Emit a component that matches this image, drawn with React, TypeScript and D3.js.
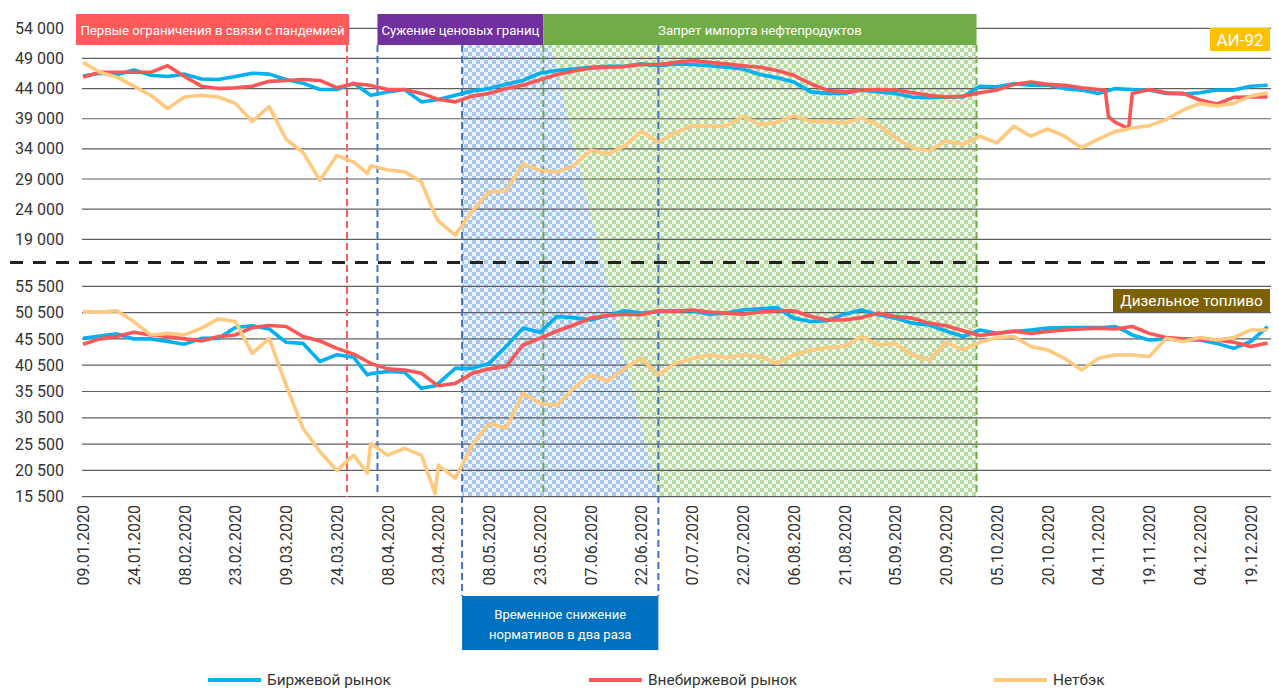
import * as d3 from "d3";

// даты наблюдений (шаг ~5 дней, с доп. точками на резких скачках)
const dates = [
  "09.01.2020", "14.01.2020", "19.01.2020", "24.01.2020", "29.01.2020", "03.02.2020", "08.02.2020",
  "13.02.2020", "18.02.2020", "23.02.2020", "28.02.2020", "04.03.2020", "09.03.2020", "14.03.2020",
  "19.03.2020", "24.03.2020", "29.03.2020", "02.04.2020", "03.04.2020", "08.04.2020", "13.04.2020",
  "18.04.2020", "22.04.2020", "23.04.2020", "28.04.2020", "03.05.2020", "08.05.2020", "13.05.2020",
  "18.05.2020", "23.05.2020", "28.05.2020", "02.06.2020", "07.06.2020", "12.06.2020", "17.06.2020",
  "22.06.2020", "27.06.2020", "02.07.2020", "07.07.2020", "12.07.2020", "17.07.2020", "22.07.2020",
  "27.07.2020", "01.08.2020", "06.08.2020", "11.08.2020", "16.08.2020", "21.08.2020", "26.08.2020",
  "31.08.2020", "05.09.2020", "10.09.2020", "15.09.2020", "20.09.2020", "25.09.2020", "30.09.2020",
  "05.10.2020", "10.10.2020", "15.10.2020", "20.10.2020", "25.10.2020", "30.10.2020", "04.11.2020",
  "06.11.2020", "07.11.2020", "09.11.2020", "12.11.2020", "13.11.2020", "14.11.2020", "19.11.2020",
  "24.11.2020", "29.11.2020", "04.12.2020", "09.12.2020", "14.12.2020", "19.12.2020", "24.12.2020",
];

// АИ-92
const a92Birzha = [
  46100, 46550, 46300, 47100, 46200, 46000, 46400, 45600, 45500, 46000, 46550, 46400, 45500, 44900,
  43850, 43850, 44900, 43300, 42900, 43450, 43850, 41800, 42100, 42200, 42900, 43600, 44000, 44700,
  45350, 46550, 47000, 47250, 47550, 47700, 47700, 48100, 47800, 48100, 48000, 47800, 47550, 47250,
  46350, 45800, 45100, 43450, 43200, 43200, 43750, 43450, 43200, 42600, 42500, 42600, 42600, 44400,
  44300, 44800, 44550, 44550, 44000, 43750, 43200, 43500, 43700, 44000, 43900, 43870, 43850, 43750,
  43200, 43100, 43300, 43750, 43750, 44400, 44550,
];
const a92Vne = [
  45900, 46700, 46700, 46700, 46700, 47800, 46000, 44400, 44000, 44150, 44400, 45200, 45350, 45500,
  45350, 44150, 44800, 44600, 44500, 43850, 43850, 43200, 42400, 42200, 41800, 42750, 43200, 44000,
  44550, 45450, 46350, 46900, 47400, 47550, 47650, 48000, 48000, 48350, 48650, 48350, 48100, 47800,
  47550, 47000, 46200, 44800, 43700, 43450, 43750, 43850, 43750, 43300, 42900, 42600, 42750, 43300,
  43750, 44700, 45100, 44700, 44550, 44150, 43850, 43750, 39300, 38400, 37600, 37700, 43200, 43850,
  43300, 43200, 42100, 41450, 42550, 42600, 42600,
];
const a92Net = [
  48350, 46700, 45900, 44400, 42900, 40700, 42600, 42900, 42600, 41550, 38550, 41000, 35600, 33400,
  28800, 32900, 31800, 29900, 31200, 30500, 30200, 28500, 23000, 22000, 19700, 23650, 26900, 27000,
  31500, 30400, 30150, 31200, 33800, 33100, 34500, 36900, 35100, 36650, 37850, 37750, 37750, 39400,
  38000, 38400, 39500, 38550, 38550, 38300, 39100, 38000, 35850, 34200, 33700, 35300, 34750, 36100,
  35000, 37750, 36100, 37300, 36100, 34200, 35600, 36100, 36400, 36900, 37200, 37350, 37450, 37850,
  38850, 40450, 41550, 41100, 41550, 42750, 43300,
];

// Дизельное топливо
const dtBirzha = [
  45600, 46050, 46450, 45500, 45500, 45000, 44500, 45600, 45600, 47650, 48000, 47400, 44850, 44650,
  41200, 42500, 42000, 38650, 38900, 39300, 39150, 36100, 36600, 37050, 39900, 39900, 40850, 44050,
  47550, 46750, 49750, 49550, 49100, 49950, 50850, 50400, 50700, 50850, 50850, 50200, 50400, 51000,
  51200, 51450, 49450, 48800, 48950, 50200, 51000, 50100, 49450, 48500, 48150, 47000, 45950, 47200,
  46550, 46900, 47200, 47550, 47650, 47650, 47650, 47700, 47750, 47850, 47000, 46600, 46250, 45300,
  45500, 45300, 45300, 44650, 43700, 45000, 47850,
];
const dtVne = [
  44500, 45500, 45950, 46750, 46250, 45950, 45500, 45100, 45950, 46250, 47650, 48050, 47850, 45950,
  45100, 43700, 42600, 41200, 40850, 39800, 39600, 38950, 37000, 36600, 37050, 38950, 39800, 40250,
  44350, 45600, 47000, 48150, 49450, 49950, 50200, 50100, 50850, 50700, 51000, 50600, 50400, 50200,
  50600, 50850, 50850, 49750, 49100, 49100, 49550, 50400, 49750, 49450, 48500, 48000, 47050, 46150,
  46550, 47000, 46550, 46900, 47200, 47400, 47550, 47500, 47450, 47400, 47650, 47750, 47850, 46550,
  45750, 45500, 45500, 45300, 44850, 44050, 44700,
];
const dtNet = [
  50700, 50600, 50850, 48800, 46250, 46550, 46250, 47550, 49300, 48800, 42750, 45600, 36700, 28500,
  24050, 20500, 23400, 20000, 25600, 23400, 24700, 23400, 16100, 21500, 19000, 25300, 29450, 28500,
  35150, 33250, 32900, 36100, 38650, 37500, 39900, 41800, 38650, 40850, 41800, 42450, 41950, 42450,
  42150, 40850, 42450, 43400, 43850, 44050, 45950, 44350, 44650, 42450, 41500, 44850, 43400, 44850,
  45750, 45950, 44050, 43400, 41800, 39600, 41800, 42100, 42250, 42450, 42450, 42450, 42450, 42150,
  45600, 45000, 45750, 45300, 45750, 47200, 47200,
];

const tickDates = [
  "09.01.2020", "24.01.2020", "08.02.2020", "23.02.2020", "09.03.2020", "24.03.2020", "08.04.2020",
  "23.04.2020", "08.05.2020", "23.05.2020", "07.06.2020", "22.06.2020", "07.07.2020", "22.07.2020",
  "06.08.2020", "21.08.2020", "05.09.2020", "20.09.2020", "05.10.2020", "20.10.2020", "04.11.2020",
  "19.11.2020", "04.12.2020", "19.12.2020",
];
const topTicks = [19000, 24000, 29000, 34000, 39000, 44000, 49000, 54000];
const botTicks = [15500, 20500, 25500, 30500, 35500, 40500, 45500, 50500, 55500];

// события (границы подписей и штриховок)
const evPandemic = "27.03.2020";
const evBounds = "05.04.2020";
const evNormStart = "30.04.2020";
const evImportStart = "24.05.2020";
const evNormEnd = "27.06.2020";
const evImportEnd = "29.09.2020";

const C_BIRZHA = "#00b0f0";
const C_VNE = "#fb5757";
const C_NET = "#ffc97f";
const FONT = "Roboto, 'Open Sans', sans-serif";

const parse = d3.timeParse("%d.%m.%Y");
const dt = dates.map((d) => parse(d) as Date);

const x = d3
  .scaleTime()
  .domain([parse("09.01.2020") as Date, parse("25.12.2020") as Date])
  .range([83, 1271]);
const yTop = d3.scaleLinear().domain([19000, 54000]).range([239.3, 28.3]);
const yBot = d3.scaleLinear().domain([15500, 55500]).range([496.7, 286.3]);

const fmt = d3
  .formatLocale({ decimal: ",", thousands: "\u00a0", grouping: [3], currency: ["", ""] })
  .format(",d");

const xd = (s: string) => x(parse(s) as Date);

const mkLine = (y: d3.ScaleLinear<number, number>) =>
  d3
    .line<number>()
    .x((_, i) => x(dt[i]))
    .y((v) => y(v));

const App = () => {
  const lineTop = mkLine(yTop);
  const lineBot = mkLine(yBot);
  const gridX0 = 82;
  const gridX1 = 1271;
  const areaTop = 45;
  const areaBot = 497;

  const xPand = xd(evPandemic);
  const xBounds = xd(evBounds);
  const xNs = xd(evNormStart);
  const xIs = xd(evImportStart);
  const xNe = xd(evNormEnd);
  const xIe = xd(evImportEnd);

  const series = (line: d3.Line<number>, arr: number[][]) =>
    arr.map((s, i) => (
      <path
        key={i}
        d={line(s) || ""}
        fill="none"
        stroke={[C_BIRZHA, C_VNE, C_NET][i]}
        strokeWidth={3.6}
        strokeLinejoin="round"
      />
    ));

  const vline = (xx: number, color: string, y2: number, key: string) => (
    <line key={key} x1={xx} x2={xx} y1={areaTop} y2={y2} stroke={color} strokeWidth={2} strokeDasharray="7 4" />
  );

  const legend = [
    { x: 208, color: C_BIRZHA, label: "Биржевой рынок" },
    { x: 589, color: C_VNE, label: "Внебиржевой рынок" },
    { x: 994, color: C_NET, label: "Нетбэк" },
  ];

  const boxFont = 13.2;

  return (
    <svg
      width={1279}
      height={688}
      style={{ position: "absolute", left: 0, top: 0, background: "#fff" }}
      fontFamily={FONT}
    >
      <defs>
        <pattern id="pBlue" width="8" height="8" patternUnits="userSpaceOnUse">
          <rect width="8" height="8" fill="#eaf2fb" />
          <rect x="0" y="0" width="4" height="4" fill="#a9c7ea" />
          <rect x="4" y="4" width="4" height="4" fill="#a9c7ea" />
        </pattern>
        <pattern id="pGreen" width="8" height="8" patternUnits="userSpaceOnUse">
          <rect width="8" height="8" fill="#eef6e9" />
          <rect x="0" y="0" width="4" height="4" fill="#b9daa3" />
          <rect x="4" y="4" width="4" height="4" fill="#b9daa3" />
        </pattern>
      </defs>

      {/* штриховки */}
      <rect x={xIs} y={areaTop} width={xIe - xIs} height={areaBot - areaTop} fill="url(#pGreen)" />
      <polygon
        points={`${xNs},${areaTop} ${xd("26.05.2020")},${areaTop} ${xNe},${areaBot} ${xNs},${areaBot}`}
        fill="url(#pBlue)"
      />

      {/* сетка */}
      {topTicks.map((t) => (
        <g key={"t" + t}>
          <line x1={gridX0} x2={gridX1} y1={yTop(t)} y2={yTop(t)} stroke="#5f5f5f" strokeWidth={1.2} />
          <text x={64} y={yTop(t)} dy="0.35em" textAnchor="end" fontSize={16} fill="#333">
            {fmt(t)}
          </text>
        </g>
      ))}
      {botTicks.map((t) => (
        <g key={"b" + t}>
          <line x1={gridX0} x2={gridX1} y1={yBot(t)} y2={yBot(t)} stroke="#5f5f5f" strokeWidth={1.2} />
          <text x={64} y={yBot(t)} dy="0.35em" textAnchor="end" fontSize={16} fill="#333">
            {fmt(t)}
          </text>
        </g>
      ))}

      {/* разделитель панелей */}
      <line x1={10} x2={gridX1} y1={262.5} y2={262.5} stroke="#222" strokeWidth={3} strokeDasharray="13 10" />

      {/* вертикальные пунктиры */}
      {vline(xPand, "#ff5b5b", areaBot, "v1")}
      {vline(xBounds, "#4472c4", areaBot, "v2")}
      {vline(xNs, "#4472c4", 596, "v3")}
      {vline(xIs, "#70ad47", areaBot, "v4")}
      {vline(xNe, "#4472c4", 596, "v5")}
      {vline(xIe, "#70ad47", areaBot, "v6")}

      {/* линии */}
      {series(lineTop, [a92Birzha, a92Vne, a92Net])}
      {series(lineBot, [dtBirzha, dtVne, dtNet])}

      {/* подписи оси X */}
      {tickDates.map((d) => (
        <text
          key={d}
          transform={`translate(${xd(d) + 6},505) rotate(-90)`}
          textAnchor="end"
          fontSize={16}
          fill="#333"
        >
          {d}
        </text>
      ))}

      {/* плашки событий */}
      <rect x={76} y={14} width={xPand + 2 - 76} height={31} fill="#ff5b5b" />
      <text x={(76 + xPand + 2) / 2} y={30} dy="0.35em" textAnchor="middle" fontSize={boxFont} fill="#fff">
        Первые ограничения в связи с пандемией
      </text>
      <rect x={xBounds} y={14} width={xIs - xBounds} height={31} fill="#7030a0" />
      <text x={(xBounds + xIs) / 2} y={30} dy="0.35em" textAnchor="middle" fontSize={boxFont} fill="#fff">
        Сужение ценовых границ
      </text>
      <rect x={xIs} y={14} width={xIe - xIs} height={31} fill="#70ad47" />
      <text x={(xIs + xIe) / 2} y={30} dy="0.35em" textAnchor="middle" fontSize={boxFont} fill="#fff">
        Запрет импорта нефтепродуктов
      </text>
      <rect x={xNs} y={596} width={xNe - xNs} height={54} fill="#0070c0" />
      <text x={(xNs + xNe) / 2} y={614} dy="0.35em" textAnchor="middle" fontSize={13} fill="#fff">
        Временное снижение
      </text>
      <text x={(xNs + xNe) / 2} y={634} dy="0.35em" textAnchor="middle" fontSize={13} fill="#fff">
        нормативов в два раза
      </text>

      {/* метки панелей */}
      <rect x={1210} y={28} width={60} height={23} fill="#ffc000" />
      <text x={1240} y={40} dy="0.35em" textAnchor="middle" fontSize={17} fill="#fff">
        АИ-92
      </text>
      <rect x={1113} y={289} width={157} height={23} fill="#7f6000" />
      <text x={1191.5} y={301} dy="0.35em" textAnchor="middle" fontSize={15.3} fill="#fff">
        Дизельное топливо
      </text>

      {/* легенда */}
      {legend.map((l) => (
        <g key={l.label}>
          <line x1={l.x} x2={l.x + 53} y1={680} y2={680} stroke={l.color} strokeWidth={4} />
          <text x={l.x + 59} y={680} dy="0.35em" fontSize={15.4} fill="#333">
            {l.label}
          </text>
        </g>
      ))}
    </svg>
  );
};

export default App;
